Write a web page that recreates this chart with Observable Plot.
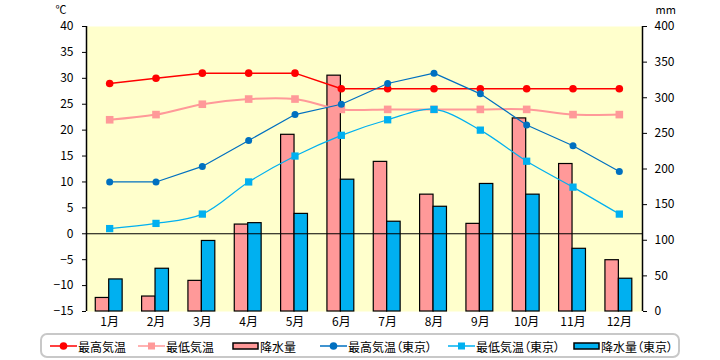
<!DOCTYPE html>
<html>
<head>
<meta charset="utf-8">
<script src="https://cdn.jsdelivr.net/npm/d3@7"></script>
<script src="https://cdn.jsdelivr.net/npm/@observablehq/plot@0.6"></script>
<style>
  html, body { margin: 0; padding: 0; background: #fff; }
  #wrap { position: relative; width: 720px; height: 360px; font-family: "Noto Sans CJK JP", sans-serif; }
  #legend { position: absolute; left: 40px; top: 333px; width: 640px; height: 25px; box-sizing: border-box;
            border: 2px solid #c8c8c8; border-radius: 7px; font-size: 12px; color: #000; font-feature-settings: "palt"; }
  .item { position: absolute; top: 3px; display: flex; align-items: center; height: 16px; white-space: nowrap; }
  .item svg { margin-right: 1px; }
</style>
</head>
<body>
<div id="wrap"><div id="chart"></div><div id="legend"></div></div>
<script>
const months = ["1月","2月","3月","4月","5月","6月","7月","8月","9月","10月","11月","12月"];
const maxTemp = [29, 30, 31, 31, 31, 28, 28, 28, 28, 28, 28, 28];
const minTemp = [22, 23, 25, 26, 26, 24, 24, 24, 24, 24, 23, 23];
const precip = [19, 21, 43, 122, 248, 331, 210, 164, 123, 271, 207, 72];
const tokyoMax = [10, 10, 13, 18, 23, 25, 29, 31, 27, 21, 17, 12];
const tokyoMin = [1, 2, 3.8, 10, 15, 19, 22, 24, 20, 14, 9, 3.8];
const tokyoPrecip = [45, 60, 99, 124, 137, 185, 126, 147, 179, 164, 88, 46];
const tempTicks = [-15, -10, -5, 0, 5, 10, 15, 20, 25, 30, 35, 40];
const precipTicks = [0, 50, 100, 150, 200, 250, 300, 350, 400];
const seriesNames = ["最高気温", "最低気温", "降水量", "最高気温（東京）", "最低気温（東京）", "降水量（東京）"];
const colors = ["#ff0000", "#ff9999", "#ff9999", "#0070c0", "#00b0f0", "#00b0f0"];

const T0 = -15, T1 = 40, P1 = 400;
const toTemp = mm => T0 + mm * (T1 - T0) / P1;
const toMM = t => Math.round((t - T0) * P1 / (T1 - T0));

const rows = months.map((m, i) => ({
  i: i + 1, month: m,
  max: maxTemp[i], min: minTemp[i], p: precip[i],
  tmax: tokyoMax[i], tmin: tokyoMin[i], tp: tokyoPrecip[i]
}));

const bw = 0.29;
const chart = Plot.plot({
  width: 720,
  height: 330,
  marginTop: 26,
  marginBottom: 19,
  marginLeft: 86,
  marginRight: 78,
  style: { fontFamily: "'Noto Sans CJK JP', sans-serif", fontSize: "12px", color: "#000", background: "transparent" },
  x: { domain: [0.5, 12.5], axis: null },
  y: { domain: [T0, T1], axis: null },
  marks: [
    Plot.frame({ fill: "#ffffcc", stroke: null }),
    Plot.rectY(rows, { x1: d => d.i - bw - 0.01, x2: d => d.i - 0.01, y1: T0, y2: d => toTemp(d.p), fill: colors[2], stroke: "#000", strokeWidth: 1.2 }),
    Plot.rectY(rows, { x1: d => d.i - 0.01, x2: d => d.i + bw - 0.01, y1: T0, y2: d => toTemp(d.tp), fill: colors[5], stroke: "#000", strokeWidth: 1.2 }),
    Plot.ruleY([0], { stroke: "#000", strokeWidth: 1.2 }),
    Plot.ruleX([0.5, 12.5], { y1: T0, y2: T1, stroke: "#000", strokeWidth: 1.5 }),
    Plot.line(rows, { x: "i", y: "max", stroke: colors[0], strokeWidth: 1.5 }),
    Plot.line(rows, { x: "i", y: "min", stroke: colors[1], strokeWidth: 2, curve: "catmull-rom" }),
    Plot.line(rows, { x: "i", y: "tmax", stroke: colors[3], strokeWidth: 1.2 }),
    Plot.line(rows, { x: "i", y: "tmin", stroke: colors[4], strokeWidth: 1.2, curve: "catmull-rom" }),
    Plot.dot(rows, { x: "i", y: "max", r: 3.8, fill: colors[0], stroke: null }),
    Plot.dot(rows, { x: "i", y: "min", r: 4.3, symbol: "square", fill: colors[1], stroke: null }),
    Plot.dot(rows, { x: "i", y: "tmax", r: 3.5, fill: colors[3], stroke: null }),
    Plot.dot(rows, { x: "i", y: "tmin", r: 4.1, symbol: "square", fill: colors[4], stroke: null }),
    Plot.axisY(tempTicks, { anchor: "left", tickSize: 4, tickPadding: 9, label: null, fontSize: 12 }),
    Plot.axisY(precipTicks.map(toTemp), { anchor: "right", tickSize: 4, tickPadding: 8, label: null, fontSize: 12, tickFormat: toMM }),
    Plot.axisX(rows.map(d => d.i), { anchor: "bottom", tickSize: 0, tickPadding: 6, label: null, fontSize: 12, tickFormat: i => months[i - 1] }),
    Plot.text(["℃"], { frameAnchor: "top-left", dx: -31, dy: -20, textAnchor: "start", fontSize: 11 }),
    Plot.text(["mm"], { frameAnchor: "top-right", dx: 13, dy: -20, textAnchor: "start", fontSize: 11 })
  ]
});
document.getElementById("chart").appendChild(chart);

// Legend
const legend = document.getElementById("legend");
const lefts = [8, 96, 190, 278, 406, 531];
const kinds = ["lineCircle", "lineSquare", "rect", "lineCircle", "lineSquare", "rect"];
const ns = "http://www.w3.org/2000/svg";
seriesNames.forEach((name, k) => {
  const div = document.createElement("div");
  div.className = "item";
  div.style.left = lefts[k] + "px";
  const svg = document.createElementNS(ns, "svg");
  svg.setAttribute("width", 27);
  svg.setAttribute("height", 12);
  const c = colors[k];
  if (kinds[k] === "rect") {
    const r = document.createElementNS(ns, "rect");
    r.setAttribute("x", 1); r.setAttribute("y", 3); r.setAttribute("width", 25); r.setAttribute("height", 6);
    r.setAttribute("fill", c); r.setAttribute("stroke", "#000"); r.setAttribute("stroke-width", 1.5);
    svg.appendChild(r);
  } else {
    const l = document.createElementNS(ns, "line");
    l.setAttribute("x1", 0); l.setAttribute("x2", 27); l.setAttribute("y1", 6); l.setAttribute("y2", 6);
    l.setAttribute("stroke", c); l.setAttribute("stroke-width", 1.5);
    svg.appendChild(l);
    if (kinds[k] === "lineCircle") {
      const m = document.createElementNS(ns, "circle");
      m.setAttribute("cx", 13.5); m.setAttribute("cy", 6); m.setAttribute("r", 3.8); m.setAttribute("fill", c);
      svg.appendChild(m);
    } else {
      const m = document.createElementNS(ns, "rect");
      m.setAttribute("x", 10); m.setAttribute("y", 2.5); m.setAttribute("width", 7); m.setAttribute("height", 7); m.setAttribute("fill", c);
      svg.appendChild(m);
    }
  }
  div.appendChild(svg);
  const span = document.createElement("span");
  span.textContent = name;
  div.appendChild(span);
  legend.appendChild(div);
});
</script>
</body>
</html>
